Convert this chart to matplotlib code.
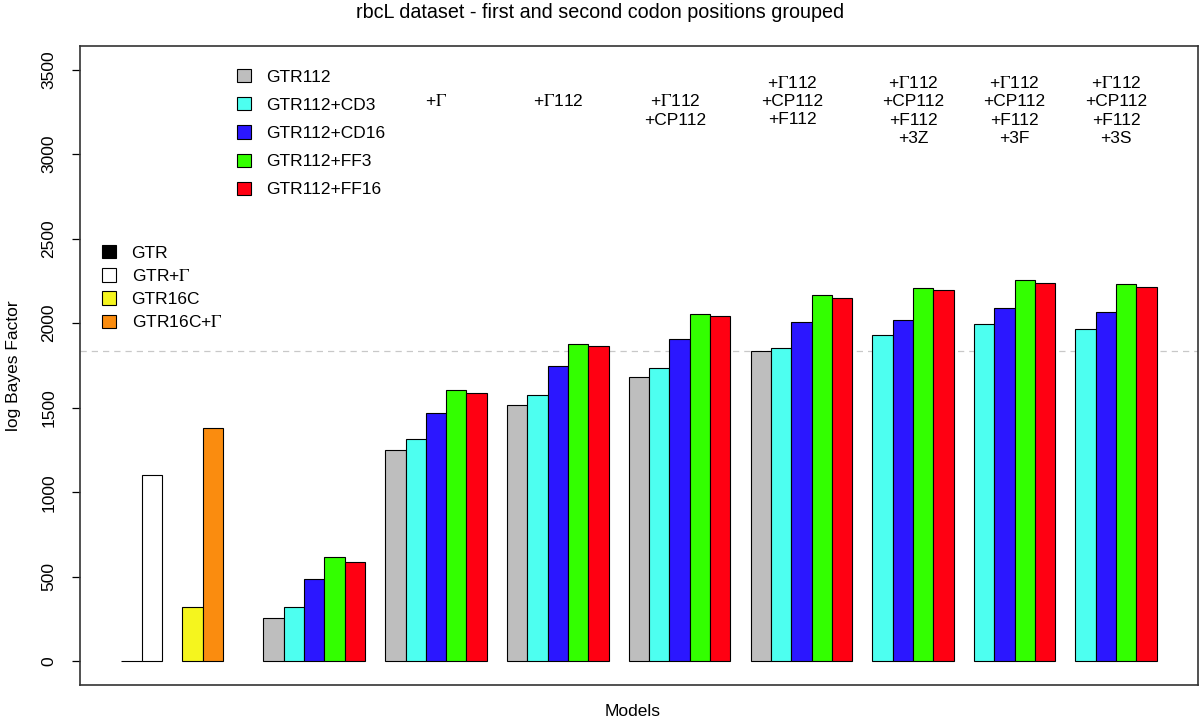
import matplotlib
matplotlib.use("Agg")
import matplotlib.pyplot as plt
from matplotlib.patches import Patch

plt.rcParams['font.family'] = ['Liberation Sans', 'DejaVu Sans']
plt.rcParams['mathtext.fontset'] = 'stix'

# ---------------- data ----------------
base_labels = ["GTR", "GTR+$\\Gamma$", "GTR16C", "GTR16C+$\\Gamma$"]
base_values = [0, 1105, 321, 1381]
base_colors = ["#000000", "#FFFFFF", "#F5F51E", "#FA8C0F"]

series_labels = ["GTR112", "GTR112+CD3", "GTR112+CD16", "GTR112+FF3", "GTR112+FF16"]
series_colors = ["#BEBEBE", "#4DFFF0", "#2B17FF", "#33FF00", "#FF0012"]
# groups of the GTR112 family (None = model not run)
grey_vals  = [258, 1249, 1517, 1683, 1834, None, None, None]
cyan_vals  = [321, 1316, 1574, 1734, 1852, 1929, 1998, 1968]
blue_vals  = [486, 1468, 1745, 1909, 2009, 2019, 2090, 2067]
green_vals = [619, 1606, 1879, 2055, 2167, 2206, 2254, 2232]
red_vals   = [585, 1586, 1864, 2045, 2151, 2195, 2238, 2214]

group_annotations = ["", "+$\\Gamma$", "+$\\Gamma$112", "+$\\Gamma$112\n+CP112",
                     "+$\\Gamma$112\n+CP112\n+F112",
                     "+$\\Gamma$112\n+CP112\n+F112\n+3Z",
                     "+$\\Gamma$112\n+CP112\n+F112\n+3F",
                     "+$\\Gamma$112\n+CP112\n+F112\n+3S"]
reference_value = 1836  # dashed horizontal line

# ---------------- figure ----------------
W, H = 1200, 720
FS = 12.5
fig = plt.figure(figsize=(12, 7.2), dpi=100)
ax = fig.add_axes([80 / W, 1 - 685 / H, (1198 - 80) / W, (685 - 46) / H])

edge_kw = dict(edgecolor="black", linewidth=0.8, width=1.0, align="edge")

# base models: two pairs
x = 0.0
for i, (v, c) in enumerate(zip(base_values, base_colors)):
    ax.bar(x, v, color=c, **edge_kw)
    x += 1
    if i == 1:
        x += 1
x += 2  # extra gap before GTR112 groups

all_series = [grey_vals, cyan_vals, blue_vals, green_vals, red_vals]
group_centers = []
for g in range(len(cyan_vals)):
    start = x
    for s, vals in enumerate(all_series):
        v = vals[g]
        if v is None:
            continue
        ax.bar(x, v, color=series_colors[s], **edge_kw)
        x += 1
    group_centers.append((start + x) / 2)
    x += 1
x_end = x - 1

# annotations above groups
ann_offsets = [0, 0, 0, -0.2, -0.45, 0, 0, 0]
for g, txt in enumerate(group_annotations):
    if not txt:
        continue
    nlines = txt.count("\n") + 1
    yv = 3314 if nlines % 2 == 1 else 3258
    ax.text(group_centers[g] + ann_offsets[g], yv, txt, ha="center", va="center",
            fontsize=FS, linespacing=1.27)

ax.axhline(reference_value, color="#C8C8C8", linewidth=0.9, linestyle=(0, (5, 4)), zorder=0)

pad = 0.04 * x_end
ax.set_xlim(-pad, x_end + pad)
ax.set_ylim(-140, 3640)
ax.set_xticks([])
ax.set_yticks(range(0, 3501, 500))
ax.tick_params(axis="y", length=6, width=0.9, labelsize=FS, labelrotation=90, pad=11)
for lab in ax.get_yticklabels():
    lab.set_va("center")
for sp in ax.spines.values():
    sp.set_linewidth(1.2)
    sp.set_color("#333333")

ax.set_ylabel("log Bayes Factor", fontsize=FS, labelpad=15)
fig.text(633 / W, 1 - 712 / H, "Models", ha="center", va="center", fontsize=FS)
fig.text(600 / W, 1 - 13 / H, "rbcL dataset - first and second codon positions grouped",
         ha="center", va="center", fontsize=14.2)

# legends
h1 = [Patch(facecolor=c, edgecolor="black", linewidth=0.8) for c in series_colors]
leg1 = ax.legend(h1, series_labels, loc="upper left",
                 bbox_to_anchor=(237 / W, 1 - 69 / H), bbox_transform=fig.transFigure,
                 frameon=False, fontsize=FS, handlelength=0.8, handleheight=0.8,
                 handletextpad=0.9, labelspacing=0.72, borderpad=0, borderaxespad=0)
ax.add_artist(leg1)
h2 = [Patch(facecolor=c, edgecolor="black", linewidth=0.8) for c in base_colors]
ax.legend(h2, base_labels, loc="upper left",
          bbox_to_anchor=(102 / W, 1 - 245 / H), bbox_transform=fig.transFigure,
          frameon=False, fontsize=FS, handlelength=0.8, handleheight=0.8,
          handletextpad=0.9, labelspacing=0.42, borderpad=0, borderaxespad=0)

fig.savefig("out.png", dpi=100)
